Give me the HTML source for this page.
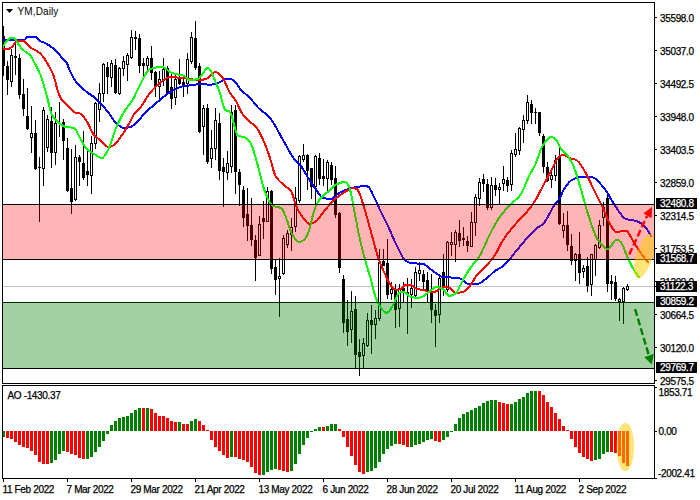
<!DOCTYPE html>
<html><head><meta charset="utf-8"><title>YM,Daily</title>
<style>
html,body{margin:0;padding:0;background:#fff;width:700px;height:500px;overflow:hidden}
svg{display:block;position:absolute;left:0;top:0}
text{font-family:"Liberation Sans",sans-serif;font-size:10px;fill:#000;stroke:currentColor;stroke-width:0.25px}
.n{letter-spacing:-0.35px}
</style></head><body>
<svg width="700" height="500" viewBox="0 0 700 500">
<defs>
<clipPath id="cm"><rect x="3" y="3" width="651" height="380"/></clipPath>
<clipPath id="ca"><rect x="3" y="386" width="651" height="92"/></clipPath>
</defs>

<g clip-path="url(#cm)" shape-rendering="crispEdges">
<rect x="3" y="286" width="652" height="1" fill="#c0c0c0"/>
<path fill="#000" d="M3 26h1v50h-1zM7 61h1v34h-1zM11 49h1v38h-1zM15 39h1v36h-1zM19 54h1v45h-1zM23 79h1v37h-1zM27 88h1v42h-1zM31 106h1v47h-1zM35 120h1v50h-1zM39 157h1v65h-1zM43 107h1v79h-1zM47 115h1v37h-1zM51 107h1v61h-1zM55 112h1v53h-1zM59 102h1v35h-1zM63 119h1v41h-1zM67 138h1v54h-1zM71 149h1v65h-1zM75 145h1v56h-1zM79 155h1v31h-1zM83 131h1v49h-1zM87 151h1v35h-1zM91 136h1v58h-1zM95 102h1v47h-1zM99 83h1v39h-1zM103 63h1v39h-1zM107 62h1v32h-1zM111 60h1v27h-1zM115 59h1v35h-1zM119 67h1v28h-1zM123 56h1v20h-1zM127 53h1v28h-1zM131 30h1v29h-1zM135 31h1v19h-1zM139 34h1v39h-1zM143 58h1v19h-1zM147 56h1v15h-1zM151 46h1v34h-1zM155 71h1v26h-1zM159 71h1v31h-1zM163 58h1v28h-1zM167 66h1v29h-1zM171 74h1v35h-1zM175 75h1v30h-1zM179 59h1v26h-1zM183 75h1v22h-1zM187 53h1v41h-1zM191 32h1v32h-1zM195 21h1v49h-1zM199 63h1v70h-1zM203 105h1v50h-1zM207 104h1v60h-1zM211 130h1v38h-1zM215 108h1v52h-1zM219 113h1v67h-1zM223 158h1v49h-1zM227 151h1v29h-1zM231 105h1v68h-1zM235 105h1v89h-1zM239 169h1v37h-1zM243 186h1v41h-1zM247 188h1v53h-1zM251 198h1v48h-1zM255 235h1v46h-1zM259 216h1v40h-1zM263 201h1v38h-1zM267 187h1v35h-1zM271 190h1v84h-1zM275 259h1v36h-1zM279 258h1v59h-1zM283 235h1v40h-1zM287 230h1v18h-1zM291 218h1v33h-1zM295 187h1v45h-1zM299 155h1v48h-1zM303 144h1v18h-1zM307 154h1v36h-1zM311 168h1v31h-1zM315 155h1v49h-1zM319 153h1v32h-1zM323 159h1v27h-1zM327 160h1v32h-1zM331 162h1v23h-1zM335 166h1v52h-1zM339 212h1v61h-1zM343 275h1v58h-1zM347 300h1v46h-1zM351 291h1v52h-1zM355 296h1v73h-1zM359 339h1v37h-1zM363 338h1v31h-1zM367 313h1v34h-1zM371 305h1v49h-1zM375 310h1v29h-1zM379 249h1v72h-1zM383 249h1v17h-1zM387 239h1v60h-1zM391 282h1v18h-1zM395 284h1v44h-1zM399 284h1v43h-1zM403 282h1v21h-1zM407 278h1v56h-1zM411 279h1v29h-1zM415 267h1v30h-1zM419 262h1v19h-1zM423 270h1v20h-1zM427 272h1v30h-1zM431 274h1v49h-1zM435 304h1v43h-1zM439 277h1v46h-1zM443 254h1v42h-1zM447 241h1v51h-1zM451 232h1v24h-1zM455 230h1v32h-1zM459 220h1v27h-1zM463 227h1v19h-1zM467 236h1v16h-1zM471 212h1v35h-1zM475 194h1v42h-1zM479 178h1v28h-1zM483 174h1v18h-1zM487 179h1v31h-1zM491 177h1v33h-1zM495 178h1v18h-1zM499 183h1v22h-1zM503 166h1v25h-1zM507 177h1v15h-1zM511 150h1v41h-1zM515 133h1v24h-1zM519 127h1v28h-1zM523 115h1v28h-1zM527 95h1v29h-1zM531 100h1v24h-1zM535 108h1v16h-1zM539 112h1v24h-1zM543 134h1v39h-1zM547 162h1v20h-1zM551 168h1v20h-1zM555 155h1v26h-1zM559 148h1v77h-1zM563 213h1v25h-1zM567 211h1v40h-1zM571 234h1v31h-1zM575 253h1v28h-1zM579 232h1v52h-1zM583 265h1v13h-1zM587 257h1v35h-1zM591 254h1v42h-1zM595 244h1v32h-1zM599 220h1v29h-1zM603 202h1v24h-1zM607 192h1v100h-1zM611 275h1v25h-1zM615 276h1v25h-1zM619 298h1v23h-1zM623 287h1v37h-1zM627 284h1v7h-1z"/>
<path fill="#000" d="M2 36h3v30h-3zM6 66h3v14h-3zM10 55h3v27h-3zM14 56h3v2h-3zM18 58h3v37h-3zM22 94h3v15h-3zM26 116h3v13h-3zM30 133h3v5h-3zM34 133h3v36h-3zM38 167h3v1h-3zM42 110h3v59h-3zM46 119h3v29h-3zM50 121h3v32h-3zM54 123h3v30h-3zM58 123h3v1h-3zM62 122h3v19h-3zM66 148h3v43h-3zM70 188h3v14h-3zM74 157h3v43h-3zM78 157h3v5h-3zM82 163h3v15h-3zM86 171h3v4h-3zM90 143h3v33h-3zM94 103h3v41h-3zM98 93h3v17h-3zM102 64h3v30h-3zM106 67h3v10h-3zM110 63h3v15h-3zM114 65h3v28h-3zM118 68h3v26h-3zM122 61h3v8h-3zM126 55h3v10h-3zM130 37h3v21h-3zM134 37h3v2h-3zM138 38h3v28h-3zM142 63h3v3h-3zM146 58h3v8h-3zM150 58h3v15h-3zM154 72h3v15h-3zM158 79h3v8h-3zM162 69h3v12h-3zM166 68h3v26h-3zM170 87h3v12h-3zM174 79h3v19h-3zM178 79h3v5h-3zM182 82h3v4h-3zM186 59h3v25h-3zM190 37h3v25h-3zM194 38h3v30h-3zM198 66h3v66h-3zM202 108h3v19h-3zM206 108h3v54h-3zM210 148h3v11h-3zM214 120h3v29h-3zM218 123h3v48h-3zM222 167h3v5h-3zM226 163h3v10h-3zM230 112h3v55h-3zM234 110h3v62h-3zM238 172h3v13h-3zM242 190h3v28h-3zM246 214h3v12h-3zM250 225h3v15h-3zM254 240h3v18h-3zM258 224h3v32h-3zM262 218h3v4h-3zM266 191h3v31h-3zM270 191h3v78h-3zM274 267h3v13h-3zM278 276h3v3h-3zM282 238h3v36h-3zM286 233h3v12h-3zM290 227h3v8h-3zM294 198h3v29h-3zM298 156h3v45h-3zM302 155h3v5h-3zM306 155h3v16h-3zM310 168h3v19h-3zM314 156h3v31h-3zM318 158h3v21h-3zM322 176h3v3h-3zM326 162h3v17h-3zM330 165h3v15h-3zM334 178h3v37h-3zM338 213h3v55h-3zM342 279h3v44h-3zM346 319h3v13h-3zM350 311h3v19h-3zM354 309h3v46h-3zM358 352h3v5h-3zM362 343h3v13h-3zM366 320h3v26h-3zM370 320h3v5h-3zM374 318h3v7h-3zM378 262h3v57h-3zM382 261h3v5h-3zM386 263h3v32h-3zM390 289h3v5h-3zM394 290h3v20h-3zM398 288h3v21h-3zM402 288h3v4h-3zM406 292h3v2h-3zM410 288h3v7h-3zM414 272h3v24h-3zM418 270h3v4h-3zM422 274h3v8h-3zM426 280h3v12h-3zM430 291h3v19h-3zM434 310h3v6h-3zM438 278h3v37h-3zM442 272h3v15h-3zM446 242h3v48h-3zM450 242h3v3h-3zM454 232h3v13h-3zM458 233h3v8h-3zM462 238h3v2h-3zM466 241h3v5h-3zM470 222h3v25h-3zM474 197h3v26h-3zM478 182h3v17h-3zM482 179h3v5h-3zM486 184h3v24h-3zM490 185h3v23h-3zM494 185h3v5h-3zM498 187h3v3h-3zM502 179h3v5h-3zM506 180h3v6h-3zM510 153h3v32h-3zM514 149h3v6h-3zM518 128h3v23h-3zM522 120h3v10h-3zM526 102h3v19h-3zM530 104h3v9h-3zM534 112h3v1h-3zM538 112h3v21h-3zM542 136h3v31h-3zM546 167h3v14h-3zM550 175h3v5h-3zM554 160h3v16h-3zM558 157h3v67h-3zM562 225h3v6h-3zM566 225h3v20h-3zM570 246h3v15h-3zM574 254h3v7h-3zM578 254h3v19h-3zM582 268h3v4h-3zM586 266h3v20h-3zM590 254h3v31h-3zM594 245h3v15h-3zM598 225h3v23h-3zM602 207h3v11h-3zM606 198h3v86h-3zM610 281h3v3h-3zM614 282h3v17h-3zM618 299h3v3h-3zM622 288h3v14h-3zM626 286h3v4h-3z"/>
<path fill="#fff" d="M11 56h1v25h-1zM31 134h1v3h-1zM43 111h1v57h-1zM47 120h1v27h-1zM55 124h1v28h-1zM75 158h1v41h-1zM91 144h1v31h-1zM95 104h1v39h-1zM99 94h1v15h-1zM103 65h1v28h-1zM111 64h1v13h-1zM119 69h1v24h-1zM123 62h1v6h-1zM127 56h1v8h-1zM131 38h1v19h-1zM147 59h1v6h-1zM159 80h1v6h-1zM163 70h1v10h-1zM175 80h1v17h-1zM187 60h1v23h-1zM191 38h1v23h-1zM203 109h1v17h-1zM211 149h1v9h-1zM215 121h1v27h-1zM227 164h1v8h-1zM231 113h1v53h-1zM259 225h1v30h-1zM267 192h1v29h-1zM279 277h1v1h-1zM283 239h1v34h-1zM287 234h1v10h-1zM291 228h1v6h-1zM295 199h1v27h-1zM299 157h1v43h-1zM303 156h1v3h-1zM315 157h1v29h-1zM327 163h1v15h-1zM351 312h1v17h-1zM363 344h1v11h-1zM367 321h1v24h-1zM375 319h1v5h-1zM379 263h1v55h-1zM391 290h1v3h-1zM399 289h1v19h-1zM411 289h1v5h-1zM415 273h1v22h-1zM419 271h1v2h-1zM439 279h1v35h-1zM447 243h1v46h-1zM451 243h1v1h-1zM455 233h1v11h-1zM471 223h1v23h-1zM475 198h1v24h-1zM479 183h1v15h-1zM491 186h1v21h-1zM499 188h1v1h-1zM503 180h1v3h-1zM511 154h1v30h-1zM515 150h1v4h-1zM519 129h1v21h-1zM523 121h1v8h-1zM527 103h1v17h-1zM551 176h1v3h-1zM555 161h1v14h-1zM563 226h1v4h-1zM575 255h1v5h-1zM583 269h1v2h-1zM591 255h1v29h-1zM595 246h1v13h-1zM599 226h1v21h-1zM603 208h1v9h-1zM619 300h1v1h-1zM623 289h1v12h-1zM627 287h1v2h-1z"/>
</g>
<g clip-path="url(#cm)" fill="none" stroke-width="2" stroke-linejoin="round" stroke-linecap="round" shape-rendering="crispEdges">
<polyline stroke="#0000ff" points="3.0,39.5 5.0,39.5 7.0,39.5 9.0,39.5 11.0,39.5 13.0,39.5 15.0,39.5 17.0,39.5 19.0,39.5 21.0,39.5 23.0,39.5 25.0,39.5 27.0,37.3 29.0,36.5 31.0,36.5 33.0,36.5 35.0,36.5 37.0,37.8 39.0,40.2 41.0,41.5 43.0,42.2 45.0,43.0 47.0,44.1 49.0,45.3 51.0,46.7 53.0,48.3 55.0,50.0 57.0,51.9 59.0,54.0 61.0,56.6 63.0,59.4 65.0,61.3 67.0,63.0 69.0,69.0 71.0,73.0 73.0,77.2 75.0,80.5 77.0,83.0 79.0,85.1 81.0,87.1 83.0,88.9 85.0,90.6 87.0,92.2 89.0,93.7 91.0,95.0 93.0,96.3 95.0,97.9 97.0,99.8 99.0,101.9 101.0,104.1 103.0,106.2 105.0,108.4 107.0,110.8 109.0,113.3 111.0,116.3 113.0,119.4 115.0,122.0 117.0,123.9 119.0,125.6 121.0,127.0 123.0,127.9 125.0,128.0 127.0,127.7 129.0,127.3 131.0,126.7 133.0,125.5 135.0,124.0 137.0,122.1 139.0,120.0 141.0,117.7 143.0,115.0 145.0,112.9 147.0,111.0 149.0,109.2 151.0,107.5 153.0,105.9 155.0,104.1 157.0,102.4 159.0,100.6 161.0,98.9 163.0,97.2 165.0,95.7 167.0,94.3 169.0,93.0 171.0,91.7 173.0,90.5 175.0,89.5 177.0,88.5 179.0,87.6 181.0,86.8 183.0,86.2 185.0,85.9 187.0,85.6 189.0,85.5 191.0,85.3 193.0,85.1 195.0,84.8 197.0,84.3 199.0,84.0 201.0,84.1 203.0,84.2 205.0,84.3 207.0,84.5 209.0,84.6 211.0,84.6 213.0,84.3 215.0,83.8 217.0,83.3 219.0,82.6 221.0,81.4 223.0,80.1 225.0,79.1 227.0,79.0 229.0,79.0 231.0,79.0 233.0,79.8 235.0,81.7 237.0,84.4 239.0,87.3 241.0,89.9 243.0,91.9 245.0,93.6 247.0,95.3 249.0,97.0 251.0,99.1 253.0,101.5 255.0,104.0 257.0,106.4 259.0,108.5 261.0,110.2 263.0,111.8 265.0,113.3 267.0,115.0 269.0,116.9 271.0,119.2 273.0,122.1 275.0,125.4 277.0,129.1 279.0,132.8 281.0,136.5 283.0,140.0 285.0,143.5 287.0,147.1 289.0,150.7 291.0,154.1 293.0,157.3 295.0,160.0 297.0,162.1 299.0,163.9 301.0,166.0 303.0,169.0 305.0,172.6 307.0,176.0 309.0,179.1 311.0,182.2 313.0,185.2 315.0,188.0 317.0,191.0 319.0,194.1 321.0,196.7 323.0,198.0 325.0,198.4 327.0,198.7 329.0,198.9 331.0,199.0 333.0,198.3 335.0,196.5 337.0,194.5 339.0,193.0 341.0,192.0 343.0,191.1 345.0,190.3 347.0,189.6 349.0,189.0 351.0,188.4 353.0,187.8 355.0,187.4 357.0,187.0 359.0,186.7 361.0,186.4 363.0,186.2 365.0,186.1 367.0,186.0 369.0,187.3 371.0,190.6 373.0,194.8 375.0,199.0 377.0,203.2 379.0,207.8 381.0,212.1 383.0,216.0 385.0,219.9 387.0,223.9 389.0,228.2 391.0,232.8 393.0,237.5 395.0,242.0 397.0,246.0 399.0,250.2 401.0,254.2 403.0,257.7 405.0,260.2 407.0,261.6 409.0,262.5 411.0,263.0 413.0,263.2 415.0,263.4 417.0,263.5 419.0,263.6 421.0,263.8 423.0,264.0 425.0,264.7 427.0,266.1 429.0,267.8 431.0,269.5 433.0,271.0 435.0,272.4 437.0,273.9 439.0,275.3 441.0,276.4 443.0,277.0 445.0,277.2 447.0,277.3 449.0,277.4 451.0,277.5 453.0,277.6 455.0,277.7 457.0,277.8 459.0,278.0 461.0,278.8 463.0,280.3 465.0,282.0 467.0,283.4 469.0,284.0 471.0,284.0 473.0,284.0 475.0,284.0 477.0,284.0 479.0,283.6 481.0,282.6 483.0,281.1 485.0,279.5 487.0,278.0 489.0,276.4 491.0,274.5 493.0,272.6 495.0,271.0 497.0,269.7 499.0,268.5 501.0,267.4 503.0,266.0 505.0,264.2 507.0,262.2 509.0,260.0 511.0,257.6 513.0,255.1 515.0,252.5 517.0,250.0 519.0,247.6 521.0,245.2 523.0,242.8 525.0,240.4 527.0,238.0 529.0,235.8 531.0,233.6 533.0,231.6 535.0,229.7 537.0,228.0 539.0,226.7 541.0,225.5 543.0,224.0 545.0,221.6 547.0,218.4 549.0,214.7 551.0,210.8 553.0,207.1 555.0,204.0 557.0,201.7 559.0,199.4 561.0,195.8 563.0,191.0 565.0,187.7 567.0,184.8 569.0,182.4 571.0,180.6 573.0,179.5 575.0,178.6 577.0,177.9 579.0,177.3 581.0,177.0 583.0,177.0 585.0,177.0 587.0,177.0 589.0,177.0 591.0,177.0 593.0,177.4 595.0,178.5 597.0,180.2 599.0,182.2 601.0,184.5 603.0,186.9 605.0,189.2 607.0,192.2 609.0,195.6 611.0,199.2 613.0,202.5 615.0,205.5 617.0,208.5 619.0,211.6 621.0,214.5 623.0,216.9 625.0,218.5 627.0,219.3 629.0,219.7 631.0,220.1 633.0,220.3 635.0,220.7 637.0,221.3 639.0,222.2 641.0,223.3 643.0,224.8 645.0,226.8 647.0,229.4 649.0,232.5 651.0,236.0"/>
<polyline stroke="#ff0000" points="3.0,49.0 5.0,49.0 7.0,49.0 9.0,48.7 11.0,47.6 13.0,46.0 15.0,42.5 17.0,41.2 19.0,40.8 21.0,40.6 23.0,40.6 25.0,42.1 27.0,44.3 29.0,46.1 31.0,47.7 33.0,49.1 35.0,50.1 37.0,51.0 39.0,52.4 41.0,54.3 43.0,56.6 45.0,59.4 47.0,62.8 49.0,66.2 51.0,69.7 53.0,74.0 55.0,80.2 57.0,88.3 59.0,94.5 61.0,98.5 63.0,101.3 65.0,103.3 67.0,105.1 69.0,107.0 71.0,109.2 73.0,111.2 75.0,112.6 77.0,113.2 79.0,113.3 81.0,113.9 83.0,115.9 85.0,118.6 87.0,121.6 89.0,125.5 91.0,129.9 93.0,133.6 95.0,136.0 97.0,137.7 99.0,139.2 101.0,140.9 103.0,142.9 105.0,144.9 107.0,146.4 109.0,147.0 111.0,146.6 113.0,145.6 115.0,144.3 117.0,142.1 119.0,139.4 121.0,136.4 123.0,133.6 125.0,130.5 127.0,127.2 129.0,123.8 131.0,120.0 133.0,115.7 135.0,112.8 137.0,110.9 139.0,109.1 141.0,106.7 143.0,103.8 145.0,100.5 147.0,97.3 149.0,94.3 151.0,91.8 153.0,89.5 155.0,87.4 157.0,85.5 159.0,83.8 161.0,82.2 163.0,80.6 165.0,79.1 167.0,77.8 169.0,77.1 171.0,77.0 173.0,77.1 175.0,77.3 177.0,77.5 179.0,77.7 181.0,77.9 183.0,78.1 185.0,78.3 187.0,78.6 189.0,78.9 191.0,79.1 193.0,79.5 195.0,79.8 197.0,80.0 199.0,80.0 201.0,79.8 203.0,79.6 205.0,79.2 207.0,78.6 209.0,76.9 211.0,74.7 213.0,72.8 215.0,72.0 217.0,72.6 219.0,74.0 221.0,76.0 223.0,78.3 225.0,82.2 227.0,86.8 229.0,91.2 231.0,94.5 233.0,97.0 235.0,99.5 237.0,102.9 239.0,107.4 241.0,111.8 243.0,114.9 245.0,117.2 247.0,119.2 249.0,121.1 251.0,122.9 253.0,124.3 255.0,126.0 257.0,128.3 259.0,131.5 261.0,135.4 263.0,139.8 265.0,144.3 267.0,149.4 269.0,155.0 271.0,161.4 273.0,169.2 275.0,175.0 277.0,178.1 279.0,180.5 281.0,182.5 283.0,184.2 285.0,186.0 287.0,187.6 289.0,189.0 291.0,191.0 293.0,195.7 295.0,202.4 297.0,208.0 299.0,211.7 301.0,214.8 303.0,217.6 305.0,220.0 307.0,222.6 309.0,224.0 311.0,223.7 313.0,223.0 315.0,222.0 317.0,220.5 319.0,218.2 321.0,215.4 323.0,212.6 325.0,210.0 327.0,207.7 329.0,205.3 331.0,203.0 333.0,200.9 335.0,199.0 337.0,197.4 339.0,195.9 341.0,194.5 343.0,193.2 345.0,192.0 347.0,190.7 349.0,189.4 351.0,188.4 353.0,188.0 355.0,188.3 357.0,189.0 359.0,192.0 361.0,197.7 363.0,204.0 365.0,210.3 367.0,217.4 369.0,224.8 371.0,232.0 373.0,239.3 375.0,246.7 377.0,253.8 379.0,260.0 381.0,265.1 383.0,269.7 385.0,274.0 387.0,278.4 389.0,282.4 391.0,285.5 393.0,288.2 395.0,289.5 397.0,289.5 399.0,289.5 401.0,289.2 403.0,287.2 405.0,285.3 407.0,285.0 409.0,285.0 411.0,285.0 413.0,285.9 415.0,287.8 417.0,289.0 419.0,289.4 421.0,289.6 423.0,289.8 425.0,290.3 427.0,291.4 429.0,292.0 431.0,292.0 433.0,292.0 435.0,292.0 437.0,290.7 439.0,288.6 441.0,287.7 443.0,287.2 445.0,287.0 447.0,287.2 449.0,287.7 451.0,288.7 453.0,291.4 455.0,293.0 457.0,292.9 459.0,292.7 461.0,292.4 463.0,292.0 465.0,291.0 467.0,289.1 469.0,287.0 471.0,284.4 473.0,281.2 475.0,277.8 477.0,275.0 479.0,272.8 481.0,270.8 483.0,269.0 485.0,267.1 487.0,265.0 489.0,262.7 491.0,260.4 493.0,257.8 495.0,255.0 497.0,251.5 499.0,247.5 501.0,243.5 503.0,240.0 505.0,237.1 507.0,234.4 509.0,231.9 511.0,229.4 513.0,227.0 515.0,224.6 517.0,222.4 519.0,220.2 521.0,218.1 523.0,216.0 525.0,213.9 527.0,211.6 529.0,209.3 531.0,206.8 533.0,204.0 535.0,200.9 537.0,197.4 539.0,193.6 541.0,189.8 543.0,186.0 545.0,182.3 547.0,178.5 549.0,174.7 551.0,171.0 553.0,167.1 555.0,162.9 557.0,159.3 559.0,157.0 561.0,155.6 563.0,155.0 565.0,155.4 567.0,156.4 569.0,157.5 571.0,158.4 573.0,159.0 575.0,159.6 577.0,160.5 579.0,162.3 581.0,165.1 583.0,168.4 585.0,171.7 587.0,175.4 589.0,179.5 591.0,183.7 593.0,188.0 595.0,192.0 597.0,195.9 599.0,199.9 601.0,203.9 603.0,208.2 605.0,213.0 607.0,217.9 609.0,222.2 611.0,225.7 613.0,229.2 615.0,231.6 617.0,232.0 619.0,231.7 621.0,231.2 623.0,230.8 625.0,230.5 627.0,230.9 629.0,233.6 631.0,237.3 633.0,240.6 635.0,243.9 637.0,247.3 639.0,250.5 641.0,253.4 643.0,256.1 645.0,258.6 647.0,260.9 648.0,262.0"/>
<polyline stroke="#00ff00" points="3.0,47.0 5.0,43.2 7.0,40.6 9.0,38.7 11.0,37.6 13.0,37.6 15.0,38.5 17.0,41.9 19.0,45.1 21.0,47.7 23.0,49.7 25.0,51.5 27.0,52.8 29.0,54.1 31.0,56.3 33.0,60.1 35.0,63.8 37.0,67.4 39.0,71.6 41.0,76.4 43.0,82.3 45.0,89.5 47.0,96.4 49.0,104.6 51.0,113.0 53.0,116.6 55.0,119.0 57.0,121.0 59.0,122.8 61.0,124.5 63.0,125.8 65.0,126.7 67.0,127.2 69.0,127.4 71.0,127.5 73.0,127.8 75.0,128.7 77.0,131.9 79.0,136.1 81.0,139.8 83.0,143.5 85.0,146.8 87.0,149.0 89.0,150.7 91.0,152.1 93.0,153.4 95.0,154.6 97.0,156.0 99.0,157.2 101.0,157.9 103.0,157.7 105.0,155.3 107.0,151.8 109.0,148.0 111.0,142.6 113.0,136.4 115.0,130.5 117.0,125.7 119.0,121.4 121.0,117.3 123.0,113.7 125.0,110.5 127.0,107.8 129.0,105.2 131.0,102.5 133.0,99.3 135.0,95.3 137.0,91.0 139.0,86.9 141.0,83.1 143.0,79.1 145.0,75.2 147.0,71.8 149.0,69.5 151.0,68.7 153.0,68.2 155.0,67.7 157.0,67.4 159.0,67.1 161.0,67.0 163.0,67.1 165.0,68.1 167.0,69.6 169.0,71.2 171.0,72.5 173.0,73.3 175.0,73.9 177.0,74.3 179.0,74.7 181.0,75.1 183.0,75.6 185.0,76.6 187.0,78.3 189.0,79.8 191.0,80.0 193.0,79.8 195.0,79.6 197.0,79.2 199.0,78.5 201.0,76.3 203.0,73.2 205.0,70.2 207.0,68.3 209.0,68.4 211.0,71.1 213.0,75.6 215.0,80.6 217.0,85.3 219.0,90.5 221.0,96.5 223.0,105.1 225.0,109.8 227.0,110.7 229.0,111.3 231.0,113.6 233.0,120.4 235.0,128.6 237.0,134.8 239.0,136.2 241.0,136.5 243.0,136.8 245.0,137.4 247.0,138.8 249.0,140.8 251.0,143.6 253.0,148.7 255.0,155.4 257.0,162.6 259.0,169.6 261.0,177.7 263.0,185.8 265.0,192.0 267.0,196.7 269.0,201.0 271.0,204.2 273.0,206.0 275.0,206.6 277.0,207.0 279.0,207.3 281.0,208.0 283.0,210.4 285.0,214.9 287.0,220.0 289.0,226.3 291.0,232.0 293.0,235.6 295.0,238.8 297.0,241.1 299.0,242.0 301.0,241.6 303.0,240.5 305.0,239.0 307.0,235.9 309.0,231.0 311.0,223.4 313.0,214.4 315.0,208.4 317.0,203.9 319.0,200.4 321.0,197.8 323.0,195.8 325.0,194.1 327.0,192.5 329.0,190.9 331.0,188.9 333.0,186.7 335.0,185.0 337.0,184.1 339.0,183.2 341.0,182.6 343.0,182.2 345.0,182.0 347.0,183.2 349.0,186.0 351.0,193.4 353.0,204.0 355.0,214.2 357.0,225.0 359.0,235.0 361.0,243.9 363.0,252.0 365.0,259.4 367.0,266.4 369.0,273.1 371.0,280.0 373.0,287.7 375.0,295.5 377.0,301.0 379.0,304.6 381.0,307.9 383.0,310.6 385.0,312.3 387.0,313.0 389.0,311.6 391.0,308.5 393.0,305.0 395.0,300.7 397.0,295.9 399.0,293.0 401.0,291.9 403.0,291.5 405.0,292.4 407.0,294.2 409.0,296.0 411.0,296.8 413.0,297.3 415.0,297.7 417.0,298.0 419.0,297.9 421.0,297.3 423.0,296.5 425.0,295.2 427.0,293.5 429.0,291.7 431.0,290.3 433.0,288.8 435.0,287.5 437.0,287.0 439.0,287.3 441.0,288.0 443.0,289.0 445.0,291.3 447.0,294.4 449.0,296.0 451.0,295.7 453.0,295.0 455.0,294.0 457.0,291.8 459.0,288.1 461.0,283.9 463.0,280.0 465.0,276.6 467.0,273.2 469.0,270.0 471.0,267.0 473.0,264.4 475.0,262.1 477.0,259.8 479.0,257.0 481.0,253.4 483.0,249.2 485.0,244.7 487.0,240.2 489.0,236.0 491.0,232.1 493.0,228.3 495.0,224.5 497.0,221.1 499.0,218.0 501.0,215.3 503.0,212.8 505.0,210.4 507.0,208.2 509.0,206.0 511.0,204.0 513.0,202.2 515.0,200.5 517.0,198.7 519.0,196.6 521.0,194.0 523.0,190.3 525.0,185.6 527.0,180.5 529.0,176.0 531.0,172.3 533.0,168.8 535.0,165.0 537.0,160.0 539.0,154.3 541.0,148.9 543.0,145.0 545.0,142.1 547.0,139.6 549.0,137.7 551.0,137.0 553.0,137.6 555.0,139.0 557.0,141.0 559.0,144.8 561.0,149.0 563.0,151.2 565.0,152.9 567.0,155.0 569.0,157.8 571.0,161.1 573.0,165.0 575.0,170.0 577.0,176.1 579.0,182.7 581.0,189.3 583.0,196.5 585.0,203.9 587.0,210.9 589.0,217.0 591.0,223.2 593.0,229.1 595.0,234.3 597.0,238.5 599.0,241.3 601.0,243.9 603.0,246.2 605.0,247.9 607.0,248.9 609.0,248.6 611.0,246.2 613.0,242.8 615.0,240.4 617.0,240.1 619.0,240.6 621.0,242.2 623.0,246.0 625.0,251.0 627.0,256.2 629.0,260.6 631.0,264.6 633.0,268.3 635.0,271.6 637.0,274.5 639.0,277.0"/>
</g>
<g clip-path="url(#cm)" shape-rendering="crispEdges">
<rect x="3" y="302" width="651" height="1" fill="#000"/>
<rect x="3" y="302" width="651" height="66" fill="rgb(0,128,0)" fill-opacity="0.36"/>
<rect x="3" y="368" width="651" height="1" fill="#000"/>
<rect x="3" y="205" width="651" height="54" fill="rgb(255,0,0)" fill-opacity="0.29"/>
<rect x="3" y="204" width="651" height="1" fill="#000"/>
<rect x="3" y="259" width="651" height="1" fill="#000"/>
</g>
<g clip-path="url(#cm)">
<ellipse cx="644.5" cy="256" rx="8.3" ry="23.5" transform="rotate(18 644.5 256)" fill="rgb(255,204,0)" fill-opacity="0.52"/>
<line x1="629.2" y1="254.6" x2="647" y2="216" stroke="#ff0000" stroke-width="2.4" stroke-dasharray="7,3"/>
<polygon points="652,207 643.4,213.6 651.6,218.2" fill="#ff0000"/>
<line x1="635.1" y1="309.1" x2="649" y2="356" stroke="#008000" stroke-width="2.4" stroke-dasharray="7,3"/>
<polygon points="651.7,364.6 644.4,357.2 653.9,353.7" fill="#008000"/>
</g>
<g clip-path="url(#ca)" shape-rendering="crispEdges">
<path fill="#008000" d="M2 431h3v6h-3zM50 431h3v32h-3zM54 431h3v29h-3zM58 431h3v23h-3zM62 431h3v20h-3zM86 431h3v28h-3zM90 431h3v26h-3zM94 431h3v21h-3zM98 431h3v16h-3zM102 431h3v10h-3zM106 431h3v3h-3zM110 425h3v6h-3zM114 421h3v10h-3zM118 418h3v13h-3zM122 417h3v14h-3zM126 416h3v15h-3zM130 413h3v18h-3zM134 410h3v21h-3zM138 408h3v23h-3zM146 408h3v23h-3zM178 422h3v9h-3zM190 421h3v10h-3zM194 419h3v12h-3zM230 431h3v26h-3zM262 431h3v44h-3zM266 431h3v41h-3zM270 431h3v39h-3zM274 431h3v38h-3zM290 431h3v40h-3zM294 431h3v33h-3zM298 431h3v23h-3zM302 431h3v14h-3zM306 431h3v7h-3zM310 431h3v1h-3zM314 429h3v2h-3zM318 427h3v4h-3zM326 426h3v5h-3zM330 424h3v7h-3zM334 424h3v7h-3zM366 431h3v41h-3zM370 431h3v40h-3zM374 431h3v37h-3zM378 431h3v31h-3zM382 431h3v23h-3zM386 431h3v18h-3zM390 431h3v15h-3zM394 431h3v13h-3zM410 431h3v16h-3zM414 431h3v14h-3zM418 431h3v13h-3zM422 431h3v11h-3zM426 431h3v9h-3zM430 431h3v8h-3zM442 431h3v9h-3zM446 431h3v6h-3zM450 431h3v1h-3zM454 424h3v7h-3zM458 418h3v13h-3zM462 414h3v17h-3zM466 412h3v19h-3zM470 410h3v21h-3zM474 408h3v23h-3zM478 406h3v25h-3zM482 403h3v28h-3zM486 401h3v30h-3zM490 400h3v31h-3zM494 400h3v31h-3zM510 404h3v27h-3zM514 402h3v29h-3zM518 399h3v32h-3zM522 397h3v34h-3zM526 393h3v38h-3zM530 391h3v40h-3zM534 391h3v40h-3zM594 431h3v29h-3zM598 431h3v28h-3zM602 431h3v23h-3zM606 431h3v21h-3z"/>
<path fill="#ff0000" d="M6 431h3v7h-3zM10 431h3v8h-3zM14 431h3v11h-3zM18 431h3v14h-3zM22 431h3v16h-3zM26 431h3v17h-3zM30 431h3v20h-3zM34 431h3v24h-3zM38 431h3v31h-3zM42 431h3v33h-3zM46 431h3v33h-3zM66 431h3v21h-3zM70 431h3v23h-3zM74 431h3v24h-3zM78 431h3v27h-3zM82 431h3v28h-3zM142 408h3v23h-3zM150 409h3v22h-3zM154 413h3v18h-3zM158 416h3v15h-3zM162 416h3v15h-3zM166 418h3v13h-3zM170 421h3v10h-3zM174 422h3v9h-3zM182 424h3v7h-3zM186 424h3v7h-3zM198 421h3v10h-3zM202 425h3v6h-3zM206 430h3v1h-3zM210 431h3v9h-3zM214 431h3v16h-3zM218 431h3v20h-3zM222 431h3v24h-3zM226 431h3v27h-3zM234 431h3v26h-3zM238 431h3v28h-3zM242 431h3v29h-3zM246 431h3v31h-3zM250 431h3v36h-3zM254 431h3v42h-3zM258 431h3v44h-3zM278 431h3v39h-3zM282 431h3v40h-3zM286 431h3v41h-3zM322 427h3v4h-3zM338 429h3v2h-3zM342 431h3v6h-3zM346 431h3v16h-3zM350 431h3v25h-3zM354 431h3v34h-3zM358 431h3v41h-3zM362 431h3v43h-3zM398 431h3v13h-3zM402 431h3v14h-3zM406 431h3v16h-3zM434 431h3v10h-3zM438 431h3v11h-3zM498 402h3v29h-3zM502 403h3v28h-3zM506 404h3v27h-3zM538 391h3v40h-3zM542 395h3v36h-3zM546 402h3v29h-3zM550 407h3v24h-3zM554 413h3v18h-3zM558 419h3v12h-3zM562 426h3v5h-3zM566 430h3v1h-3zM570 431h3v8h-3zM574 431h3v16h-3zM578 431h3v22h-3zM582 431h3v26h-3zM586 431h3v28h-3zM590 431h3v30h-3zM610 431h3v21h-3zM614 431h3v22h-3zM618 431h3v25h-3zM622 431h3v32h-3zM626 431h3v35h-3z"/>
</g>
<ellipse cx="625.3" cy="447" rx="8.8" ry="24.3" fill="rgb(255,204,0)" fill-opacity="0.52"/>
<rect x="655" y="286" width="1" height="1" fill="#000" shape-rendering="crispEdges"/>
<g shape-rendering="crispEdges" fill="#000">
<rect x="2" y="2" width="653" height="1"/>
<rect x="2" y="383" width="653" height="1"/>
<rect x="2" y="2" width="1" height="382"/>
<rect x="654" y="2" width="1" height="382"/>
<rect x="2" y="385" width="653" height="1"/>
<rect x="2" y="478" width="653" height="1"/>
<rect x="2" y="385" width="1" height="94"/>
<rect x="654" y="385" width="1" height="94"/>
<rect x="655" y="17" width="2" height="1"/>
<rect x="655" y="50" width="2" height="1"/>
<rect x="655" y="83" width="2" height="1"/>
<rect x="655" y="116" width="2" height="1"/>
<rect x="655" y="149" width="2" height="1"/>
<rect x="655" y="182" width="2" height="1"/>
<rect x="655" y="215" width="2" height="1"/>
<rect x="655" y="248" width="2" height="1"/>
<rect x="655" y="281" width="2" height="1"/>
<rect x="655" y="314" width="2" height="1"/>
<rect x="655" y="347" width="2" height="1"/>
<rect x="655" y="380" width="2" height="1"/>
<rect x="655" y="387" width="2" height="1"/>
<rect x="655" y="431" width="2" height="1"/>
<rect x="655" y="478" width="2" height="1"/>
<rect x="3" y="479" width="1" height="3"/>
<rect x="67" y="479" width="1" height="3"/>
<rect x="131" y="479" width="1" height="3"/>
<rect x="195" y="479" width="1" height="3"/>
<rect x="259" y="479" width="1" height="3"/>
<rect x="323" y="479" width="1" height="3"/>
<rect x="387" y="479" width="1" height="3"/>
<rect x="451" y="479" width="1" height="3"/>
<rect x="515" y="479" width="1" height="3"/>
<rect x="579" y="479" width="1" height="3"/>
</g>
<text transform="translate(660 21.6) scale(1 1.0)" font-size="9.5" letter-spacing="-0.35">35598.0</text>
<text transform="translate(660 54.6) scale(1 1.0)" font-size="9.5" letter-spacing="-0.35">35037.0</text>
<text transform="translate(660 87.6) scale(1 1.0)" font-size="9.5" letter-spacing="-0.35">34492.5</text>
<text transform="translate(660 120.6) scale(1 1.0)" font-size="9.5" letter-spacing="-0.35">33948.0</text>
<text transform="translate(660 153.6) scale(1 1.0)" font-size="9.5" letter-spacing="-0.35">33403.5</text>
<text transform="translate(660 186.6) scale(1 1.0)" font-size="9.5" letter-spacing="-0.35">32859.0</text>
<text transform="translate(660 219.6) scale(1 1.0)" font-size="9.5" letter-spacing="-0.35">32314.5</text>
<text transform="translate(660 252.6) scale(1 1.0)" font-size="9.5" letter-spacing="-0.35">31753.5</text>
<text transform="translate(660 285.6) scale(1 1.0)" font-size="9.5" letter-spacing="-0.35">31209.0</text>
<text transform="translate(660 318.6) scale(1 1.0)" font-size="9.5" letter-spacing="-0.35">30664.5</text>
<text transform="translate(660 351.6) scale(1 1.0)" font-size="9.5" letter-spacing="-0.35">30120.0</text>
<text transform="translate(660 384.6) scale(1 1.0)" font-size="9.5" letter-spacing="-0.35">29575.5</text>
<rect x="656" y="198" width="41" height="11" fill="#000" shape-rendering="crispEdges"/>
<text transform="translate(660 207) scale(1 1.0)" font-size="9.5" letter-spacing="-0.35" style="fill:#fff;color:#fff">32480.8</text>
<rect x="656" y="253" width="41" height="11" fill="#000" shape-rendering="crispEdges"/>
<text transform="translate(660 262) scale(1 1.0)" font-size="9.5" letter-spacing="-0.35" style="fill:#fff;color:#fff">31568.7</text>
<rect x="656" y="281" width="41" height="11" fill="#000" shape-rendering="crispEdges"/>
<text transform="translate(660 290) scale(1 1.0)" font-size="9.5" letter-spacing="-0.35" style="fill:#fff;color:#fff">31122.3</text>
<rect x="656" y="296" width="41" height="11" fill="#000" shape-rendering="crispEdges"/>
<text transform="translate(660 305) scale(1 1.0)" font-size="9.5" letter-spacing="-0.35" style="fill:#fff;color:#fff">30859.2</text>
<rect x="656" y="362" width="41" height="11" fill="#000" shape-rendering="crispEdges"/>
<text transform="translate(660 371) scale(1 1.0)" font-size="9.5" letter-spacing="-0.35" style="fill:#fff;color:#fff">29769.7</text>
<text transform="translate(658.5 396) scale(1 1.0)" font-size="9.5" letter-spacing="-0.35">1853.71</text>
<text transform="translate(658.5 435) scale(1 1.0)" font-size="9.5" letter-spacing="-0.35">0.00</text>
<text transform="translate(658 477) scale(1 1.0)" font-size="9.5" letter-spacing="-0.35">-2002.41</text>
<text transform="translate(2.5 493) scale(1 1.0)" font-size="9.5" letter-spacing="-0.35">11 Feb 2022</text>
<text transform="translate(66.5 493) scale(1 1.0)" font-size="9.5" letter-spacing="-0.35">7 Mar 2022</text>
<text transform="translate(130.5 493) scale(1 1.0)" font-size="9.5" letter-spacing="-0.35">29 Mar 2022</text>
<text transform="translate(194.5 493) scale(1 1.0)" font-size="9.5" letter-spacing="-0.35">21 Apr 2022</text>
<text transform="translate(258.5 493) scale(1 1.0)" font-size="9.5" letter-spacing="-0.35">13 May 2022</text>
<text transform="translate(322.5 493) scale(1 1.0)" font-size="9.5" letter-spacing="-0.35">6 Jun 2022</text>
<text transform="translate(386.5 493) scale(1 1.0)" font-size="9.5" letter-spacing="-0.35">28 Jun 2022</text>
<text transform="translate(450.5 493) scale(1 1.0)" font-size="9.5" letter-spacing="-0.35">20 Jul 2022</text>
<text transform="translate(514.5 493) scale(1 1.0)" font-size="9.5" letter-spacing="-0.35">11 Aug 2022</text>
<text transform="translate(578.5 493) scale(1 1.0)" font-size="9.5" letter-spacing="-0.35">2 Sep 2022</text>
<text transform="translate(7.5 398.6) scale(1 1.0)" font-size="9.5" letter-spacing="-0.35">AO -1430.37</text>
<polygon points="6,9 13,9 9.5,13" fill="#000"/>
<text transform="translate(17.6 14.5) scale(1 1.0)" font-size="9.8" letter-spacing="0.1" style="stroke-width:0px">YM,Daily</text>
</svg></body></html>
